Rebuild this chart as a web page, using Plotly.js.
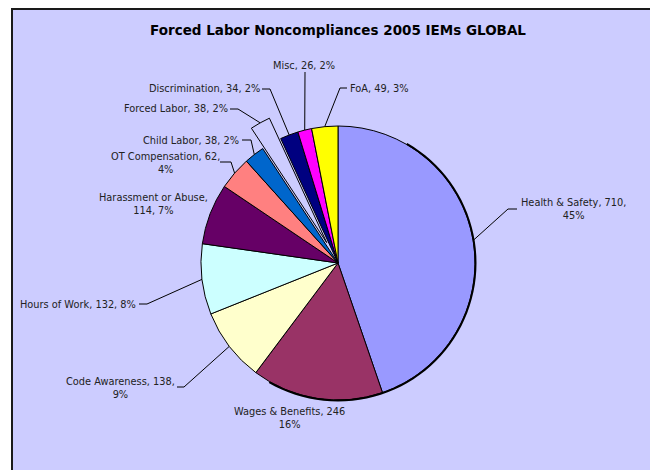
<!DOCTYPE html>
<html><head><meta charset="utf-8">
<script src="https://cdn.plot.ly/plotly-3.0.1.min.js"></script>
<style>html,body{margin:0;padding:0;background:#fff;overflow:hidden}</style>
</head><body><div id="chart" style="width:650px;height:470px"></div>
<script>
// ---- data ----
const categories = ["Health & Safety","Wages & Benefits","Code Awareness","Hours of Work","Harassment or Abuse","OT Compensation","Child Labor","Forced Labor","Discrimination","Misc","FoA"];
const values = [710,246,138,132,114,62,38,38,34,26,49];
const titleText = "Forced Labor Noncompliances 2005 IEMs GLOBAL";

// ---- styles ----
const colors = ["#9999FF","#993366","#FFFFCC","#CCFFFF","#660066","#FF8080","#0066CC","#CCCCFF","#000080","#FF00FF","#FFFF00"];
const pulls = [0,0,0,0,0,0,0,0.17,0,0,0];

// ---- layout (pixels) ----
const W = 650, H = 470;
const CX = 338, CY = 263, R = 137;
const LINE_H = 12.5;
// label placement: x,y = centre of first text line; sep1 between name & value, sep2 between value & pct; stub = leader start points
const labelLayout = [
  {x:573, y:203, sep1:", ",    sep2:",<br>", stub:[[517,209],[508,209]]},
  {x:289, y:412, sep1:", ",    sep2:"<br>",  stub:null},
  {x:120, y:382, sep1:", ",    sep2:",<br>", stub:[[177,387],[184,387]]},
  {x:78,  y:304, sep1:", ",    sep2:", ",    stub:[[139,304],[147,304]]},
  {x:153, y:198, sep1:",<br>", sep2:", ",    stub:null},
  {x:165, y:157, sep1:", ",    sep2:",<br>", stub:[[220,162],[231,162]]},
  {x:191, y:140, sep1:", ",    sep2:", ",    stub:[[242,140],[251,140]]},
  {x:176, y:108, sep1:", ",    sep2:", ",    stub:[[230,109],[238,109]]},
  {x:204, y:88,  sep1:", ",    sep2:", ",    stub:[[262,89],[270,89]]},
  {x:304, y:66,  sep1:", ",    sep2:", ",    stub:[[305,72]]},
  {x:379, y:88,  sep1:", ",    sep2:", ",    stub:[[347,88],[340,88]]}
];

const px = x => x / W;
const py = y => 1 - y / H;

const total = values.reduce((a,b)=>a+b,0);
const maxPull = Math.max(...pulls);
const Rp = R * (1 + maxPull);

const trace = {
  type: 'pie',
  labels: categories,
  values: values,
  sort: false,
  direction: 'clockwise',
  rotation: 0,
  pull: pulls,
  textinfo: 'none',
  hoverinfo: 'none',
  showlegend: false,
  marker: {colors: colors, line: {color: '#000000', width: 1}},
  domain: {x: [px(CX - Rp), px(CX + Rp)], y: [py(CY + Rp), py(CY - Rp)]}
};

const annotations = [];
const shapes = [
  {type: 'rect', xref: 'paper', yref: 'paper', layer: 'below',
   x0: 0, x1: 1, y0: py(8), y1: 1, fillcolor: '#FFFFFF', line: {width: 0}},
  {type: 'rect', xref: 'paper', yref: 'paper', layer: 'below',
   x0: 0, x1: px(11), y0: 0, y1: 1, fillcolor: '#FFFFFF', line: {width: 0}},
  {type: 'path', xref: 'paper', yref: 'paper', layer: 'below',
   path: 'M' + px(12) + ',0 L' + px(12) + ',' + py(9) + ' L1,' + py(9),
   line: {color: '#1a1a1a', width: 2}}
];

let cum = 0;
values.forEach((v, i) => {
  const pct = Math.round(v / total * 100);
  const L = labelLayout[i];
  const text = categories[i] + L.sep1 + v + L.sep2 + pct + '%';
  const nLines = text.split('<br>').length;
  annotations.push({
    xref: 'paper', yref: 'paper', x: px(L.x), y: py(L.y + (nLines - 1) * LINE_H / 2),
    xanchor: 'center', yanchor: 'middle', showarrow: false, align: 'center',
    text: text, font: {family: 'DejaVu Sans, Verdana, sans-serif', size: 9.8, color: '#222222'}
  });
  const a = (cum + v / 2) / total * 2 * Math.PI;
  cum += v;
  if (L.stub) {
    const rr = R * (1 + pulls[i]);
    const ex = CX + rr * Math.sin(a), ey = CY - rr * Math.cos(a);
    const pts = L.stub.concat([[ex, ey]]);
    const path = pts.map((p, k) => (k ? 'L' : 'M') + px(p[0]) + ',' + py(p[1])).join(' ');
    shapes.push({type: 'path', xref: 'paper', yref: 'paper', layer: 'above', path: path,
      line: {color: '#000000', width: 1}});
  }
});

// thicker rim on lower-right of the pie (shadow-like edge)
let rim = '';
for (let d = 30; d <= 210; d += 3) {
  const t = d * Math.PI / 180;
  const x = CX + (R + 0.5) * Math.sin(t), y = CY - (R + 0.5) * Math.cos(t);
  rim += (d === 30 ? 'M' : 'L') + px(x) + ',' + py(y) + ' ';
}
shapes.push({type: 'path', xref: 'paper', yref: 'paper', layer: 'above', path: rim,
  line: {color: '#000000', width: 2}});

const layout = {
  width: W, height: H,
  margin: {l: 0, r: 0, t: 0, b: 0},
  paper_bgcolor: '#CCCCFF',
  title: {text: titleText, x: px(338), xanchor: 'center', y: py(30), yanchor: 'middle',
    font: {family: 'DejaVu Sans, Verdana, sans-serif', size: 13.5, weight: 'bold', color: '#000000'}},
  annotations: annotations,
  shapes: shapes
};

Plotly.newPlot('chart', [trace], layout, {displayModeBar: false, staticPlot: true});
</script>
</body></html>
